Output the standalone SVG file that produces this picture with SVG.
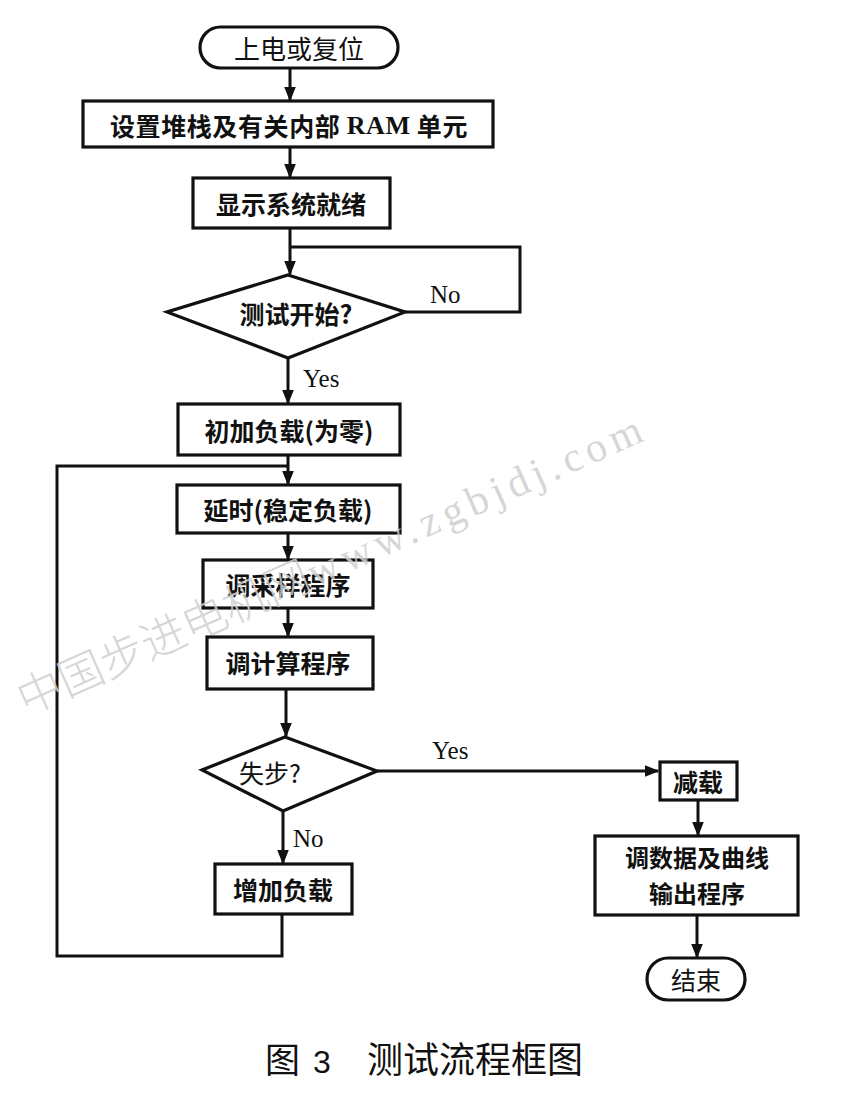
<svg xmlns="http://www.w3.org/2000/svg" width="841" height="1095" viewBox="0 0 841 1095">
<defs>
<style>
.box{fill:#fff;stroke:#111;stroke-width:3.2}
.ln{fill:none;stroke:#111;stroke-width:3}
.cn{font-family:"Noto Sans CJK SC","Noto Sans CJK JP",sans-serif;font-size:25px;font-weight:bold;fill:#111;text-anchor:middle;dominant-baseline:central}
.lat{font-family:"Liberation Serif",serif;font-size:25px;fill:#111}
.wm{fill:#cfcfcf;fill-opacity:0.85}
</style>
<marker id="ah" viewBox="0 0 10 10" refX="9" refY="5" markerWidth="5" markerHeight="5" orient="auto" markerUnits="strokeWidth">
<path d="M0,1 L10,5 L0,9 z" fill="#111"/>
</marker>
</defs>
<rect width="841" height="1095" fill="#fff"/>
<g id="connectors">
<path class="ln" d="M290,68 V100" marker-end="url(#ah)"/>
<path class="ln" d="M290,147 V177" marker-end="url(#ah)"/>
<path class="ln" d="M290,228 V274" marker-end="url(#ah)"/>
<path class="ln" d="M405,312 H520 V247 H290"/>
<path class="ln" d="M288,358 V403" marker-end="url(#ah)"/>
<path class="ln" d="M288,455 V484" marker-end="url(#ah)"/>
<path class="ln" d="M288,533 V559" marker-end="url(#ah)"/>
<path class="ln" d="M288,608 V636" marker-end="url(#ah)"/>
<path class="ln" d="M286,689 V736" marker-end="url(#ah)"/>
<path class="ln" d="M377,771 H658" marker-end="url(#ah)"/>
<path class="ln" d="M283,811 V863" marker-end="url(#ah)"/>
<path class="ln" d="M282,914 V956 H57 V466 H288"/>
<path class="ln" d="M698,800 V835" marker-end="url(#ah)"/>
<path class="ln" d="M697,915 V957" marker-end="url(#ah)"/>
</g>
<g id="n_start">
<rect class="box" x="200" y="27" width="198" height="41" rx="20.5"/>
<text class="cn" x="299" y="47" style="font-weight:normal;font-size:26px">上电或复位</text>
</g>
<g id="n_setstack">
<rect class="box" x="83" y="101" width="410" height="46"/>
<text class="cn" x="289" y="125" style="font-size:25px;letter-spacing:0.6px">设置堆栈及有关内部 <tspan style="font-family:'Liberation Serif',serif;font-size:26px">RAM</tspan> 单元</text>
</g>
<g id="n_ready">
<rect class="box" x="193" y="178" width="197" height="50"/>
<text class="cn" x="291" y="203">显示系统就绪</text>
</g>
<g id="n_teststart">
<polygon class="box" points="288,275 405,312 288,358 167,312"/>
<text class="cn" x="296" y="313">测试开始?</text>
</g>
<text class="lat" x="430" y="303">No</text>
<text class="lat" x="303" y="387">Yes</text>
<g id="n_initload">
<rect class="box" x="178" y="404" width="222" height="51"/>
<text class="cn" x="289" y="430">初加负载(为零)</text>
</g>
<g id="n_delay">
<rect class="box" x="177" y="485" width="223" height="48"/>
<text class="cn" x="288" y="509">延时(稳定负载)</text>
</g>
<g id="n_sample">
<rect class="box" x="203" y="560" width="170" height="48"/>
<text class="cn" x="288" y="584">调采样程序</text>
</g>
<g id="n_calc">
<rect class="box" x="207" y="637" width="166" height="52"/>
<text class="cn" x="288" y="662">调计算程序</text>
</g>
<g id="n_lost">
<polygon class="box" points="285,737 377,771 283,811 202,770"/>
<text class="cn" x="270" y="772" style="font-weight:normal">失步?</text>
</g>
<text class="lat" x="432" y="759">Yes</text>
<text class="lat" x="293" y="847">No</text>
<g id="n_addload">
<rect class="box" x="215" y="864" width="137" height="50"/>
<text class="cn" x="283" y="889">增加负载</text>
</g>
<g id="n_reduce">
<rect class="box" x="660" y="762" width="77" height="38"/>
<text class="cn" x="698" y="781">减载</text>
</g>
<g id="n_output">
<rect class="box" x="595" y="836" width="203" height="79"/>
<text class="cn" x="697" y="856" style="font-size:24px">调数据及曲线</text>
<text class="cn" x="697" y="892" style="font-size:24px">输出程序</text>
</g>
<g id="n_end">
<rect class="box" x="647" y="958" width="98" height="42" rx="21"/>
<text class="cn" x="696" y="979" style="font-weight:normal">结束</text>
</g>
<g id="caption">
<text x="265" y="1073" style="font-family:'Noto Sans CJK SC',sans-serif;font-size:35px;fill:#111">图</text>
<text x="313" y="1073" style="font-family:'Liberation Sans',sans-serif;font-size:32px;fill:#111">3</text>
<text x="367" y="1073" style="font-family:'Noto Sans CJK SC',sans-serif;font-size:36px;fill:#111">测试流程框图</text>
</g>
<g id="watermark" transform="translate(26,716) rotate(-24)">
<text class="wm" x="0" y="0" style="font-family:'Noto Sans CJK SC',sans-serif;font-size:45px;font-weight:300">中国步进电机网</text>
<text class="wm" x="316" y="0" textLength="362" lengthAdjust="spacing" style="font-family:'Liberation Serif',serif;font-size:42px">www.zgbjdj.com</text>
</g>
</svg>
